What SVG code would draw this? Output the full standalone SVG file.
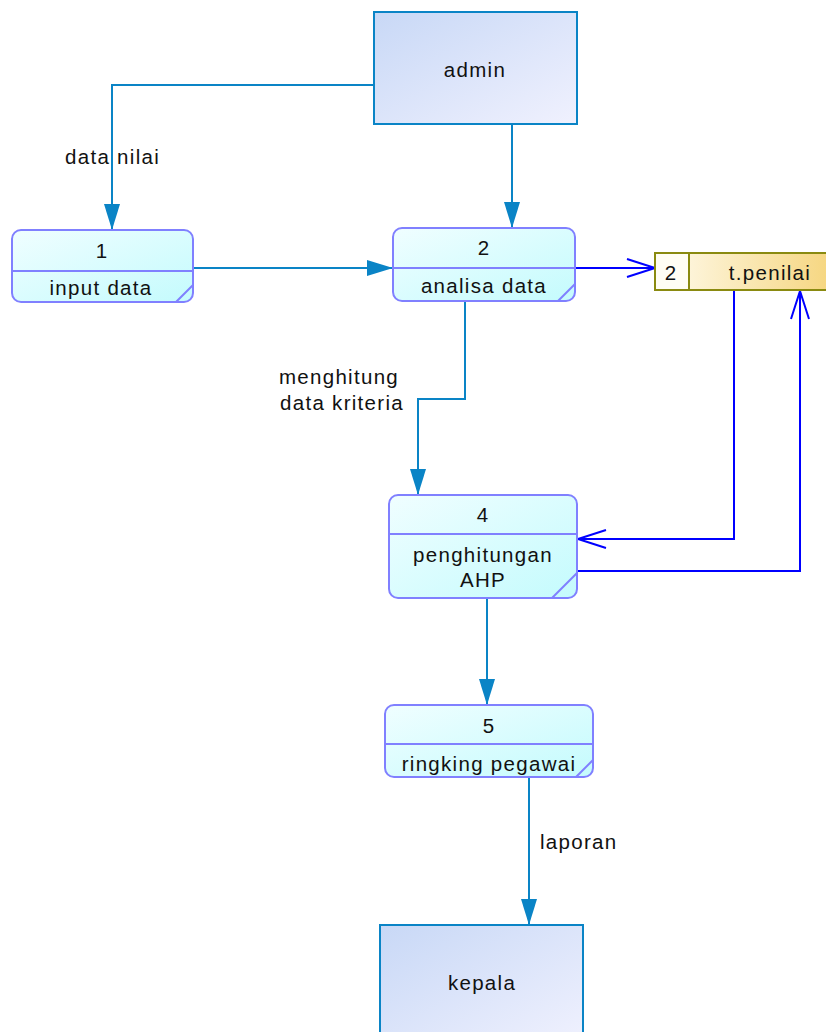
<svg xmlns="http://www.w3.org/2000/svg" width="826" height="1032" viewBox="0 0 826 1032">
<defs>
<linearGradient id="gExt" x1="0" y1="0" x2="1" y2="1">
<stop offset="0" stop-color="#c8d8f6"/>
<stop offset="1" stop-color="#f0f1fe"/>
</linearGradient>
<linearGradient id="gProc" x1="0" y1="0" x2="1" y2="1">
<stop offset="0" stop-color="#f0feff"/>
<stop offset="1" stop-color="#c4fbfd"/>
</linearGradient>
<linearGradient id="gStore" x1="0" y1="0" x2="1" y2="0">
<stop offset="0" stop-color="#fffbee"/>
<stop offset="1" stop-color="#f5d47a"/>
</linearGradient>
<marker id="aTeal" viewBox="0 0 26 16" refX="26" refY="8" markerWidth="26" markerHeight="16" markerUnits="userSpaceOnUse" orient="auto">
<path d="M0,0 L26,8 L0,16 Z" fill="#0a84c6"/>
</marker>
<marker id="aOpen" viewBox="0 0 30 22" refX="29" refY="11" markerWidth="30" markerHeight="22" markerUnits="userSpaceOnUse" orient="auto">
<path d="M1,2 L29,11 L1,20" fill="none" stroke="#0000ff" stroke-width="2"/>
</marker>
</defs>
<style>
text{font-family:"Liberation Sans",Arial,sans-serif;font-size:20.5px;fill:#111;letter-spacing:1.3px;text-anchor:middle}
.ext{fill:url(#gExt);stroke:#0a84c6;stroke-width:2}
.proc{fill:url(#gProc);stroke:#8080ff;stroke-width:2}
.div{stroke:#8080ff;stroke-width:2;fill:none}
.store{fill:url(#gStore);stroke:#8a8a10;stroke-width:2}
.teal{fill:none;stroke:#0a84c6;stroke-width:2;marker-end:url(#aTeal)}
.blue{fill:none;stroke:#0000ff;stroke-width:2;marker-end:url(#aOpen)}
.lbl{text-anchor:start}
</style>
<g id="connectors">
<path class="teal" d="M374,85 H112 V230"/>
<path class="teal" d="M512,124 V228"/>
<path class="teal" d="M193,268 H393"/>
<path class="blue" d="M575,268 H655"/>
<path class="teal" d="M465,301 V399 H418 V495"/>
<path class="blue" d="M734,290 V539 H578"/>
<path class="blue" d="M577,571 H800 V291"/>
<path class="teal" d="M487,598 V705"/>
<path class="teal" d="M529,777 V925"/>
<text class="lbl" x="65" y="164">data nilai</text>
<text x="339" y="384">menghitung</text>
<text x="342" y="410">data kriteria</text>
<text class="lbl" x="540" y="849">laporan</text>
</g>
<g id="admin">
<rect class="ext" x="374" y="12" width="203" height="112"/>
<text x="475" y="77">admin</text>
</g>
<g id="kepala">
<rect class="ext" x="380" y="925" width="203" height="120"/>
<text x="482" y="990">kepala</text>
</g>
<g id="p1">
<rect class="proc" x="12" y="230" width="181" height="72" rx="9"/>
<path class="div" d="M12,271 H193 M176,302 L193,285"/>
<text x="102" y="258">1</text>
<text x="101" y="295">input data</text>
</g>
<g id="p2">
<rect class="proc" x="393" y="228" width="182" height="73" rx="9"/>
<path class="div" d="M393,268 H575 M558,301 L575,284"/>
<text x="484" y="255">2</text>
<text x="484" y="293">analisa data</text>
</g>
<g id="p4">
<rect class="proc" x="389" y="495" width="188" height="103" rx="9"/>
<path class="div" d="M389,534 H577 M552,598 L577,573"/>
<text x="483" y="522">4</text>
<text x="483" y="562">penghitungan</text>
<text x="483" y="587">AHP</text>
</g>
<g id="p5">
<rect class="proc" x="385" y="705" width="208" height="72" rx="9"/>
<path class="div" d="M385,744 H593 M576,777 L593,760"/>
<text x="489" y="733">5</text>
<text x="489" y="771">ringking pegawai</text>
</g>
<g id="store">
<rect class="store" x="655" y="253" width="185" height="37"/>
<path d="M689,253 V290" stroke="#8a8a10" stroke-width="2"/>
<rect x="656" y="254" width="32" height="35" fill="#fffdf4"/>
<text x="671" y="280">2</text>
<text x="770" y="280">t.penilai</text>
</g>
</svg>
